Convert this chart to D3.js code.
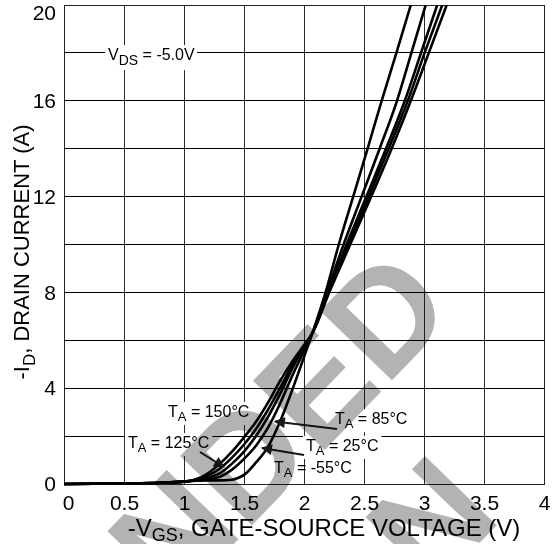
<!DOCTYPE html>
<html><head><meta charset="utf-8">
<script src="https://cdn.jsdelivr.net/npm/d3@7"></script>
<style>
html,body{margin:0;padding:0;background:#fff;}
svg{display:block;font-family:"Liberation Sans",Arial,Helvetica,sans-serif;}
</style></head><body>
<svg id="chart" width="553" height="544"></svg>
<script>
// ---- data ----
const xTicks = [0, 0.5, 1, 1.5, 2, 2.5, 3, 3.5, 4];
const yTicks = [0, 4, 8, 12, 16, 20];
const yGrid = [0, 2, 4, 6, 8, 10, 12, 14, 16, 18, 20];
const seriesNames = ["-55°C", "25°C", "85°C", "125°C", "150°C"];
// [-VGS (V), -ID (A)]
const curveM55 = [[0,0],[0.5,0.02],[0.8,0.05],[1.0,0.1],[1.1,0.14],[1.3,0.15],[1.4,0.18],[1.45,0.25],[1.5,0.38],[1.6,0.9],[1.7,1.55],[1.8,2.6],[1.9,3.9],[2.0,5.3],[2.07,6.3],[2.18,8],[2.29,10],[2.41,12],[2.53,14],[2.647,16],[2.77,18],[2.89,20]];
const curve25  = [[0,0],[0.5,0.02],[0.8,0.05],[1.0,0.1],[1.1,0.15],[1.2,0.19],[1.3,0.3],[1.4,0.6],[1.5,1.05],[1.6,1.6],[1.7,2.35],[1.8,3.35],[1.9,4.5],[2.0,5.55],[2.07,6.3],[2.19,8],[2.33,10],[2.48,12],[2.63,14],[2.775,16],[2.895,18],[3.014,20]];
const curve85  = [[0,0],[0.5,0.02],[0.8,0.05],[1.0,0.1],[1.1,0.16],[1.2,0.25],[1.3,0.45],[1.4,0.85],[1.5,1.35],[1.6,2.0],[1.7,2.8],[1.8,3.75],[1.9,4.8],[2.0,5.7],[2.07,6.3],[2.20,8],[2.355,10],[2.52,12],[2.683,14],[2.84,16],[2.975,18],[3.11,20]];
const curve125 = [[0,0],[0.5,0.02],[0.8,0.05],[1.0,0.1],[1.1,0.18],[1.2,0.35],[1.3,0.65],[1.4,1.1],[1.5,1.65],[1.6,2.3],[1.7,3.1],[1.8,4.0],[1.9,4.95],[2.0,5.75],[2.07,6.3],[2.205,8],[2.37,10],[2.54,12],[2.705,14],[2.865,16],[3.005,18],[3.152,20]];
const curve150 = [[0,0],[0.5,0.02],[0.8,0.05],[1.0,0.1],[1.1,0.2],[1.2,0.45],[1.3,0.85],[1.4,1.35],[1.5,1.95],[1.6,2.6],[1.7,3.4],[1.8,4.3],[1.9,5.1],[2.0,5.8],[2.07,6.3],[2.21,8],[2.385,10],[2.56,12],[2.73,14],[2.89,16],[3.04,18],[3.189,20]];
const curves = [curveM55, curve25, curve85, curve125, curve150];

// annotation anchors in data units [V, I]
const labelText = ["-55°C", "25°C", "85°C", "125°C", "150°C"];
const labelPos  = [[1.75,0.46],[2.017,1.38],[2.258,2.50],[0.533,1.50],[0.867,2.80]];
const labelBox  = [false, true, true, true, true];
const arrowFrom = [[1.133,1.336],[2.275,2.296],[2.0,1.211]];
const arrowTo   = [[1.333,0.71],[1.758,2.61],[1.65,1.503]];
const vdsPos = [0.367, 17.70];

const xTitle = ["-V", "GS", ", GATE-SOURCE VOLTAGE (V)"];
const yTitle = ["-I", "D", ", DRAIN CURRENT (A)"];
const watermark = ["NOT RECOMMENDED", "FOR NEW DESIGN"];

(function () {
// ---- layout ----
const pLeft = 64, pRight = 544, pTop = 5, pBottom = 484;
const svg = d3.select("#chart");
const x = d3.scaleLinear().domain([0, 4]).range([pLeft, pRight]);
const y = d3.scaleLinear().domain([0, 20]).range([pBottom, pTop]);

// grid
const grid = svg.append("g").attr("shape-rendering", "crispEdges");
grid.selectAll("line.v").data(xTicks).enter().append("line")
  .attr("x1", d => x(d)).attr("x2", d => x(d)).attr("y1", pTop).attr("y2", pBottom)
  .attr("stroke", "#2a2a2a").attr("stroke-width", 1);
grid.selectAll("line.h").data(yGrid).enter().append("line")
  .attr("x1", pLeft).attr("x2", pRight).attr("y1", d => y(d)).attr("y2", d => y(d))
  .attr("stroke", "#000").attr("stroke-width", 1);
grid.append("rect").attr("x", pLeft).attr("y", pTop).attr("width", pRight - pLeft).attr("height", pBottom - pTop)
  .attr("fill", "none").attr("stroke", "#222").attr("stroke-width", 1);

// axes
const xAxis = svg.append("g").attr("transform", `translate(0,${pBottom})`)
  .call(d3.axisBottom(x).tickValues(xTicks).tickSize(0).tickPadding(11).tickFormat(d3.format("")));
const yAxis = svg.append("g").attr("transform", `translate(${pLeft},0)`)
  .call(d3.axisLeft(y).tickValues(yTicks).tickSize(0).tickPadding(8));
[xAxis, yAxis].forEach(a => {
  a.select(".domain").remove();
  a.selectAll("text").attr("font-family", "Liberation Sans, Arial, sans-serif")
    .attr("font-size", 21).attr("fill", "#000");
});
xAxis.selectAll("text").filter(d => d === 0).attr("dx", 4);
yAxis.selectAll("text").filter(d => d === 20).attr("dy", "0.7em");

// curves
svg.append("clipPath").attr("id", "plotclip").append("rect")
  .attr("x", pLeft).attr("y", pTop).attr("width", pRight - pLeft).attr("height", pBottom - pTop + 3);
const line = d3.line().x(d => x(d[0])).y(d => y(d[1])).curve(d3.curveMonotoneX);
svg.append("g").attr("clip-path", "url(#plotclip)")
  .selectAll("path").data(curves).enter().append("path")
  .attr("d", line).attr("fill", "none").attr("stroke", "#000")
  .attr("stroke-width", 2.6).attr("stroke-linejoin", "round");

// label helper
function subLabel(g, px, py, main, sub, rest, size, subSize, subDy) {
  const t = g.append("text").attr("x", px).attr("y", py).attr("font-size", size).attr("fill", "#000");
  t.append("tspan").text(main);
  t.append("tspan").attr("font-size", subSize).attr("dy", subDy).text(sub);
  t.append("tspan").attr("dy", -subDy).text(rest);
  return t;
}

const ann = svg.append("g");
{
  const g = ann.append("g");
  const t = subLabel(g, x(vdsPos[0]), y(vdsPos[1]), "V", "DS", " = -5.0V", 16, 14, 5);
  const bb = t.node().getBBox();
  g.insert("rect", "text").attr("x", bb.x - 3).attr("y", bb.y - 1).attr("width", bb.width + 5).attr("height", bb.height + 3).attr("fill", "#fff");
}
labelText.forEach((txt, i) => {
  const g = ann.append("g");
  const t = subLabel(g, x(labelPos[i][0]), y(labelPos[i][1]), "T", "A", " = " + txt, 16, 13, 4);
  if (labelBox[i]) {
    const bb = t.node().getBBox();
    g.insert("rect", "text").attr("x", bb.x - 3).attr("y", bb.y - 1).attr("width", bb.width + 6).attr("height", bb.height + 2).attr("fill", "#fff");
  }
});
svg.append("defs").append("marker").attr("id", "ah").attr("viewBox", "0 0 10 10")
  .attr("refX", 9).attr("refY", 5).attr("markerWidth", 6.5).attr("markerHeight", 5.5)
  .attr("orient", "auto").attr("markerUnits", "strokeWidth")
  .append("path").attr("d", "M0,0 L10,5 L0,10 z").attr("fill", "#1a1a1a");
arrowFrom.forEach((f, i) => {
  ann.append("line").attr("x1", x(f[0])).attr("y1", y(f[1]))
    .attr("x2", x(arrowTo[i][0])).attr("y2", y(arrowTo[i][1]))
    .attr("stroke", "#1a1a1a").attr("stroke-width", 2).attr("marker-end", "url(#ah)");
});

// axis titles
subLabel(svg, 0, 0, xTitle[0], xTitle[1], xTitle[2], 24, 18, 5)
  .attr("text-anchor", "middle").attr("transform", `translate(324,536)`);
subLabel(svg, 0, 0, yTitle[0], yTitle[1], yTitle[2], 22, 17, 6)
  .attr("text-anchor", "middle").attr("transform", `translate(29,252) rotate(-90)`);

// watermark
const wm = svg.append("g").attr("transform", "translate(458,312) rotate(-46)")
  .style("mix-blend-mode", "multiply");
const w1 = wm.append("text").attr("text-anchor", "end").attr("font-size", 145).attr("font-weight", "bold")
  .attr("fill", "#b3b3b3").text(watermark[0]);
const L1 = w1.node().getComputedTextLength();
wm.append("text").attr("text-anchor", "middle").attr("x", -L1 / 2).attr("y", 176)
  .attr("font-size", 145).attr("font-weight", "bold").attr("fill", "#b3b3b3").text(watermark[1]);
})();
</script>
</body></html>
